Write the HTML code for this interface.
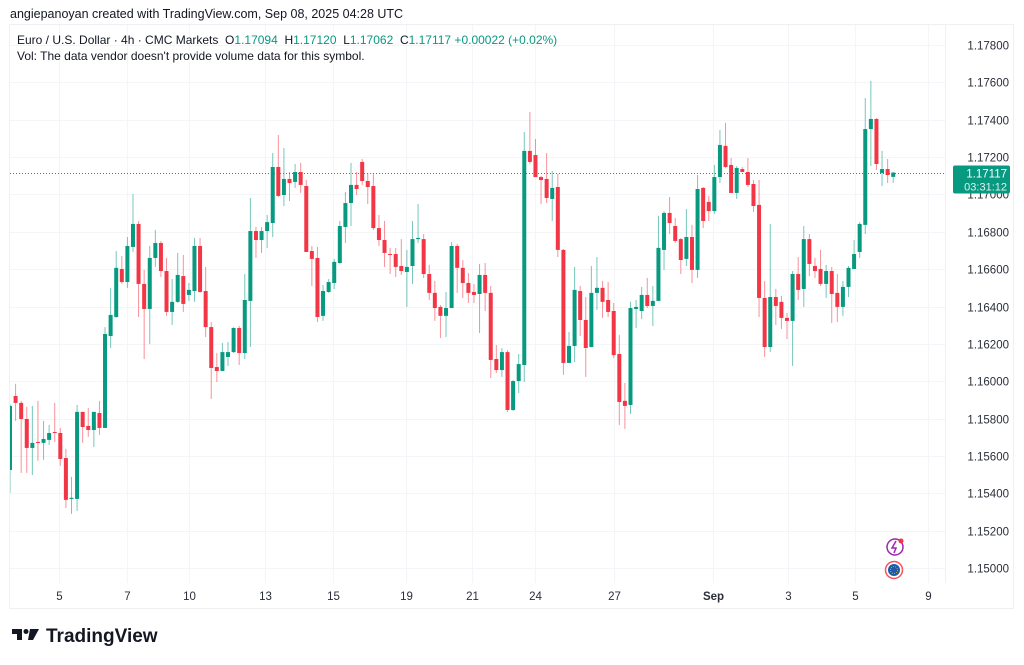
<!DOCTYPE html>
<html><head><meta charset="utf-8"><style>
html,body{margin:0;padding:0;background:#fff;width:1024px;height:665px;overflow:hidden;font-family:"Liberation Sans",sans-serif}
svg{position:absolute;left:0;top:0}
</style></head><body>
<svg id="chart" width="1024" height="665" viewBox="0 0 1024 665" xmlns="http://www.w3.org/2000/svg">
<defs><clipPath id="plotclip"><rect x="10" y="25" width="935" height="558"/></clipPath></defs>
<text x="10" y="18" font-size="12.5" fill="#131722">angiepanoyan created with TradingView.com, Sep 08, 2025 04:28 UTC</text>
<rect x="9.5" y="24.5" width="1004" height="584" fill="none" stroke="#eef0f3"/>
<g id="grid"></g>
<line x1="945.5" y1="25" x2="945.5" y2="583" stroke="#f0f1f3"/>
<g id="candles" clip-path="url(#plotclip)"></g>
<g id="axes"></g>
<text x="17" y="44" font-size="12" fill="#131722" xml:space="preserve">Euro / U.S. Dollar · 4h · CMC Markets  <tspan>O</tspan><tspan fill="#089981">1.17094</tspan>  <tspan>H</tspan><tspan fill="#089981">1.17120</tspan>  <tspan>L</tspan><tspan fill="#089981">1.17062</tspan>  <tspan>C</tspan><tspan fill="#089981">1.17117 +0.00022 (+0.02%)</tspan></text>
<text x="17" y="60" font-size="12" fill="#131722">Vol: The data vendor doesn't provide volume data for this symbol.</text>
<g><circle cx="895" cy="547" r="8" fill="none" stroke="#9c27b0" stroke-width="1.5"/><path d="M896 541 L892 548 L896 548 L894 553" stroke="#9c27b0" stroke-width="1.5" fill="none"/><circle cx="901" cy="541" r="2.5" fill="#f23645"/></g>
<g><circle cx="894" cy="570" r="8.5" fill="#fff" stroke="#f7525f" stroke-width="1.5"/><circle cx="894" cy="570" r="6" fill="#1e5aa8"/><circle cx="894" cy="570" r="3.5" fill="none" stroke="#e6c300" stroke-width="0.8" stroke-dasharray="1 1.2"/></g>
<g><path d="M12 629 h10 v11 h-5 v-6 h-5z" fill="#131722"/><circle cx="26" cy="631.5" r="2.5" fill="#131722"/><path d="M30 629 h9 l-6 11 h-5z" fill="#131722"/><text x="46" y="642" font-size="19" font-weight="bold" fill="#131722">TradingView</text></g>
</svg>
<script>
const openP=[1.15525,1.15921,1.15884,1.15798,1.15643,1.15675,1.15670,1.15686,1.15728,1.15723,1.15589,1.15370,1.15370,1.15836,1.15761,1.15739,1.15830,1.15750,1.16242,1.16344,1.16601,1.16531,1.16719,1.16842,1.16521,1.16387,1.16660,1.16740,1.16590,1.16371,1.16425,1.16563,1.16462,1.16483,1.16724,1.16483,1.16290,1.16076,1.16055,1.16130,1.16156,1.16285,1.16151,1.16430,1.16804,1.16756,1.16804,1.16847,1.17147,1.16997,1.17083,1.17067,1.17120,1.17045,1.16697,1.16660,1.16350,1.16478,1.16526,1.16633,1.16826,1.16954,1.17051,1.17174,1.17072,1.17045,1.16820,1.16756,1.16681,1.16681,1.16617,1.16585,1.16617,1.16761,1.16761,1.16574,1.16473,1.16398,1.16350,1.16392,1.16724,1.16607,1.16526,1.16478,1.16467,1.16569,1.16473,1.16119,1.16060,1.16156,1.15846,1.16001,1.16087,1.17233,1.17211,1.17093,1.17083,1.16976,1.17040,1.16703,1.16098,1.16189,1.16483,1.16328,1.16183,1.16473,1.16500,1.16435,1.16376,1.16146,1.15895,1.15873,1.16387,1.16376,1.16462,1.16403,1.16430,1.16703,1.16901,1.16831,1.16761,1.16655,1.16772,1.16596,1.17035,1.16960,1.16911,1.17093,1.17260,1.17158,1.17008,1.17136,1.17120,1.17056,1.16944,1.16446,1.16183,1.16451,1.16425,1.16339,1.16323,1.16574,1.16494,1.16761,1.16617,1.16601,1.16521,1.16590,1.16473,1.16398,1.16505,1.16601,1.16692,1.16837,1.17350,1.17404,1.17115,1.17136,1.17094];
const highP=[1.15878,1.15986,1.15895,1.15863,1.15868,1.15895,1.15788,1.15766,1.15884,1.15750,1.15638,1.15488,1.15873,1.15836,1.15857,1.15836,1.15895,1.16290,1.16500,1.16697,1.16670,1.16772,1.17002,1.16858,1.16596,1.16724,1.16810,1.16751,1.16660,1.16547,1.16687,1.16676,1.16526,1.16767,1.16767,1.16612,1.16317,1.16151,1.16205,1.16210,1.16290,1.16296,1.16574,1.16981,1.16826,1.16826,1.16890,1.17222,1.17318,1.17249,1.17120,1.17163,1.17169,1.17077,1.16724,1.16719,1.16515,1.16547,1.16655,1.16858,1.17013,1.17169,1.17120,1.17190,1.17115,1.17115,1.16890,1.16858,1.16714,1.16714,1.16761,1.16703,1.16858,1.16949,1.16788,1.16623,1.16537,1.16408,1.16478,1.16746,1.16735,1.16649,1.16580,1.16521,1.16628,1.16633,1.16510,1.16194,1.16178,1.16167,1.16007,1.16146,1.17334,1.17442,1.17297,1.17099,1.17222,1.17126,1.17110,1.16708,1.16264,1.16612,1.16510,1.16451,1.16617,1.16665,1.16537,1.16531,1.16419,1.16247,1.15991,1.16425,1.16435,1.16505,1.16553,1.16510,1.16885,1.16911,1.16986,1.16874,1.16767,1.16922,1.16837,1.17104,1.17040,1.16992,1.17158,1.17345,1.17383,1.17195,1.17152,1.17147,1.17195,1.17077,1.17077,1.16537,1.16842,1.16494,1.16457,1.16366,1.16590,1.16665,1.16831,1.16788,1.16660,1.16703,1.16623,1.16612,1.16574,1.16537,1.16617,1.16756,1.16852,1.17516,1.17607,1.17409,1.17233,1.17190,1.17120];
const lowP=[1.15402,1.15788,1.15509,1.15509,1.15498,1.15574,1.15579,1.15659,1.15675,1.15547,1.15322,1.15290,1.15306,1.15670,1.15702,1.15648,1.15713,1.15750,1.16178,1.16339,1.16521,1.16500,1.16692,1.16344,1.16119,1.16199,1.16612,1.16558,1.16350,1.16301,1.16419,1.16371,1.16430,1.16425,1.16473,1.16237,1.15905,1.15996,1.16055,1.16082,1.16151,1.16087,1.16119,1.16183,1.16660,1.16687,1.16714,1.16772,1.16986,1.16938,1.16965,1.17035,1.17008,1.16692,1.16510,1.16317,1.16323,1.16473,1.16494,1.16628,1.16740,1.16831,1.16997,1.17051,1.16949,1.16810,1.16724,1.16612,1.16574,1.16558,1.16569,1.16398,1.16521,1.16740,1.16553,1.16435,1.16323,1.16231,1.16237,1.16392,1.16473,1.16446,1.16419,1.16419,1.16258,1.16376,1.16017,1.16044,1.16023,1.15836,1.15841,1.15937,1.15996,1.17163,1.17093,1.16949,1.16954,1.16858,1.16665,1.16034,1.16098,1.16103,1.16242,1.16023,1.16183,1.16382,1.16339,1.16344,1.16124,1.15766,1.15745,1.15825,1.16285,1.16333,1.16392,1.16296,1.16430,1.16596,1.16788,1.16740,1.16574,1.16617,1.16526,1.16553,1.16820,1.16858,1.16896,1.17061,1.17142,1.17008,1.16976,1.17120,1.17040,1.16906,1.16344,1.16130,1.16156,1.16301,1.16280,1.16226,1.16082,1.16435,1.16398,1.16563,1.16553,1.16510,1.16446,1.16312,1.16317,1.16350,1.16451,1.16601,1.16660,1.16788,1.17152,1.17131,1.17045,1.17061,1.17062];
const closeP=[1.15868,1.15884,1.15798,1.15643,1.15670,1.15670,1.15691,1.15723,1.15723,1.15584,1.15365,1.15376,1.15836,1.15755,1.15739,1.15836,1.15750,1.16253,1.16355,1.16607,1.16531,1.16724,1.16842,1.16521,1.16387,1.16660,1.16740,1.16590,1.16371,1.16425,1.16569,1.16414,1.16489,1.16724,1.16478,1.16290,1.16071,1.16055,1.16156,1.16156,1.16285,1.16151,1.16435,1.16804,1.16756,1.16804,1.16852,1.17147,1.16992,1.17083,1.17061,1.17120,1.17051,1.16692,1.16655,1.16344,1.16483,1.16531,1.16639,1.16831,1.16954,1.17051,1.17029,1.17072,1.17040,1.16820,1.16756,1.16687,1.16678,1.16612,1.16590,1.16612,1.16761,1.16767,1.16574,1.16473,1.16392,1.16350,1.16392,1.16724,1.16607,1.16526,1.16473,1.16462,1.16569,1.16473,1.16114,1.16060,1.16156,1.15846,1.16001,1.16092,1.17233,1.17174,1.17093,1.17077,1.16981,1.17035,1.16703,1.16098,1.16189,1.16489,1.16328,1.16178,1.16473,1.16500,1.16425,1.16371,1.16140,1.15889,1.15868,1.16392,1.16398,1.16462,1.16403,1.16430,1.16714,1.16901,1.16847,1.16751,1.16649,1.16772,1.16596,1.17029,1.16858,1.16911,1.17093,1.17265,1.17147,1.17008,1.17142,1.17120,1.17051,1.16938,1.16446,1.16183,1.16451,1.16403,1.16339,1.16323,1.16574,1.16489,1.16761,1.16628,1.16590,1.16521,1.16590,1.16467,1.16398,1.16505,1.16607,1.16681,1.16842,1.17350,1.17404,1.17163,1.17136,1.17104,1.17117];
const priceTicks=["1.17800","1.17600","1.17400","1.17200","1.17000","1.16800","1.16600","1.16400","1.16200","1.16000","1.15800","1.15600","1.15400","1.15200","1.15000"];
const dateLabels=["5","7","10","13","15","19","21","24","27","Sep","3","5","9"];
const dateIndex=[8.8,21,32,45.6,57.8,70.8,82.6,94,108,125.7,139.2,151.2,164.2];
const lastPrice=1.17117;
const lastLabel="03:31:12";

const NS="http://www.w3.org/2000/svg";
const X0=10,STEP=5.59,PTOP=1.178,PY0=45,PXPER=37.36/0.002;
function xScale(i){return X0+i*STEP;}
function yScale(p){return PY0+(PTOP-p)*PXPER;}
function mk(tag,attrs,parent){const e=document.createElementNS(NS,tag);for(const k in attrs)e.setAttribute(k,attrs[k]);parent.appendChild(e);return e;}
const grid=document.getElementById('grid'),cg=document.getElementById('candles'),ax=document.getElementById('axes');
priceTicks.forEach(t=>{const y=Math.round(yScale(parseFloat(t)))+0.5;
 const l=mk('line',{x1:10,x2:945,y1:y,y2:y,stroke:'#f3f5f8'},grid);
 
 
 const tx=mk('text',{x:1009,y:y+4,'font-size':11.5,fill:'#2a2e39','text-anchor':'end'},ax);
 tx.textContent=t;
 
 
});
dateLabels.forEach((d,k)=>{const x=Math.round(xScale(dateIndex[k]))+0.5;
 const l=mk('line',{x1:x,x2:x,y1:25,y2:583,stroke:'#f3f5f8'},grid);
 
 
 const tx=mk('text',{x:x,y:600,'font-size':11.5,fill:'#2a2e39','text-anchor':'middle','font-weight':d==='Sep'?'bold':'normal'},ax);
 tx.textContent=d;
 
 
});
for(let i=0;i<openP.length;i++){
 const up=closeP[i]>=openP[i];const col=up?'#089981':'#f23645';const x=xScale(i);
 const w=mk('line',{x1:x,x2:x,y1:yScale(highP[i]),y2:yScale(lowP[i]),stroke:col,'stroke-opacity':0.55,'stroke-width':1},cg);
 
 
 const top=yScale(Math.max(openP[i],closeP[i])),bot=yScale(Math.min(openP[i],closeP[i]));
 const b=mk('rect',{x:x-2,y:top,width:4,height:Math.max(1,bot-top),fill:col},cg);
 
 
}
const ly=Math.round(yScale(lastPrice))+0.5;
const pl=mk('line',{x1:10,x2:945,y1:ly,y2:ly,stroke:'#089981','stroke-dasharray':'1 2'},ax);


const box=mk('rect',{x:953,y:ly-8,width:57,height:28,rx:2,fill:'#089981'},ax);


const t1=mk('text',{x:1007,y:ly+4,'font-size':11.5,fill:'#fff','text-anchor':'end'},ax);
t1.textContent=lastPrice.toFixed(5);


const t2=mk('text',{x:1007,y:ly+17,'font-size':11,fill:'#e0f2ef','text-anchor':'end'},ax);
t2.textContent=lastLabel;


</script>
</body></html>
